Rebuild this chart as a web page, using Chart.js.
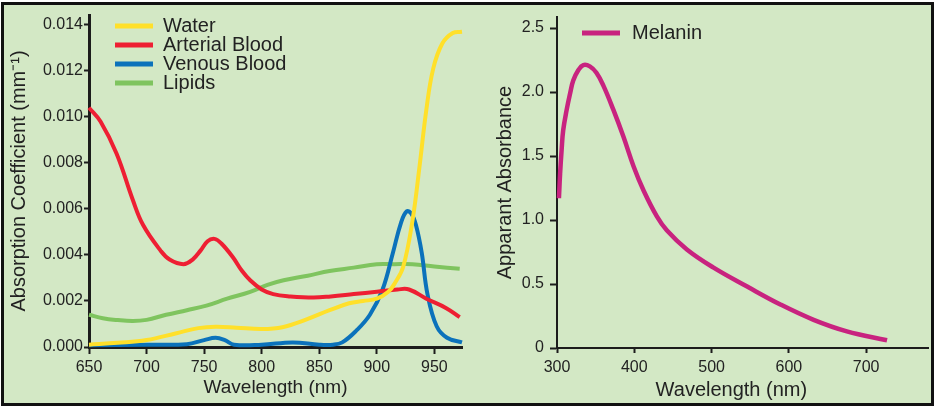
<!DOCTYPE html>
<html>
<head>
<meta charset="utf-8">
<script src="https://cdn.jsdelivr.net/npm/chart.js@4.4.1/dist/chart.umd.min.js"></script>
<style>
body { margin: 0; width: 936px; height: 410px; background: #fff; position: relative; overflow: hidden; }
#frame { position: absolute; left: 1px; top: 2px; width: 933px; height: 404px; border: 3px solid #111; box-sizing: border-box; background: #d3e8c5; }
.box { position: absolute; top: 0; height: 410px; }
#left { left: 0; width: 480px; }
#right { left: 480px; width: 456px; }
</style>
</head>
<body>
<div id="frame"></div>
<div class="box" id="left"><canvas id="absChart"></canvas></div>
<div class="box" id="right"><canvas id="melChart"></canvas></div>
<script>
// ── Data (wavelength nm, value) ──
const water = [[650, 0.0001], [675, 0.00018], [700, 0.0003], [726, 0.0006], [745, 0.00082], [760, 0.00088],
    [778, 0.00084], [800, 0.00078], [818, 0.00086], [839, 0.0012], [859, 0.0016], [876, 0.0019], [888, 0.002],
    [900, 0.0021], [910, 0.0024], [916, 0.0028], [923, 0.0035], [931, 0.0055], [937, 0.0078], [943, 0.0103],
    [949, 0.0121], [957, 0.0132], [966, 0.01365], [974, 0.0137]];
const arterial = [[650, 0.0104], [660, 0.0098], [674, 0.0084], [688, 0.0064], [697, 0.0053], [712, 0.0042],
    [720, 0.0038], [732, 0.0036], [740, 0.0038], [747, 0.0042], [753, 0.0046], [759, 0.0047], [765, 0.0045],
    [775, 0.0039], [783, 0.0033], [790, 0.0029], [800, 0.0025], [810, 0.0023], [825, 0.0022], [845, 0.00215],
    [860, 0.0022], [880, 0.0023], [900, 0.0024], [918, 0.0025], [928, 0.0025], [943, 0.0021], [960, 0.0017],
    [972, 0.0013]];
const venous = [[650, 0.00008], [700, 0.0001], [735, 0.00012], [750, 0.0003], [760, 0.0004], [768, 0.0003],
    [776, 0.0001], [800, 0.0001], [827, 0.0002], [850, 0.0001], [862, 0.0001], [870, 0.0002], [882, 0.0007],
    [894, 0.0014], [905, 0.0025], [914, 0.0041], [921, 0.0054], [926, 0.0059], [930, 0.0058], [934, 0.0053],
    [939, 0.0041], [944, 0.0023], [952, 0.0009], [961, 0.0004], [974, 0.0002]];
const lipids = [[650, 0.0014], [662, 0.00125], [675, 0.00117], [688, 0.00113], [700, 0.00118], [717, 0.0014],
    [735, 0.0016], [752, 0.0018], [770, 0.0021], [790, 0.0024], [805, 0.0027], [819, 0.0029], [840, 0.0031],
    [859, 0.0033], [880, 0.00345], [900, 0.0036], [915, 0.0036], [931, 0.0036], [950, 0.0035], [972, 0.0034]];
const melanin = [[302.5, 1.17], [304, 1.36], [306, 1.55], [308, 1.7], [312.5, 1.86], [317, 1.99], [321, 2.09],
    [327.5, 2.17], [334, 2.21], [342.5, 2.2], [351, 2.15], [360, 2.05], [373, 1.86], [386, 1.65], [399, 1.42],
    [412, 1.23], [429, 1.03], [442, 0.92], [468, 0.77], [502, 0.63], [546, 0.48], [589, 0.34], [632, 0.22],
    [675, 0.13], [727, 0.06]];

// ── Tick labels ──
const absTicks = [0, 0.002, 0.004, 0.006, 0.008, 0.010, 0.012, 0.014];
const wlTicksLeft = [650, 700, 750, 800, 850, 900, 950];
const melTicks = [0, 0.5, 1.0, 1.5, 2.0, 2.5];
const wlTicksRight = [300, 400, 500, 600, 700];

const AXIS = '#1c1c1c';
const TEXT = '#222';
Chart.defaults.font.family = '"Liberation Sans", Arial, Helvetica, sans-serif';
Chart.defaults.color = TEXT;

const toXY = arr => arr.map(([x, y]) => ({ x, y }));
const setTicks = list => scale => { scale.ticks = list.map(v => ({ value: v })); };

// ── Legend drawn inside the plot: short thick line + label ──
const lineLegend = {
    id: 'lineLegend',
    afterDraw(chart, args, opts) {
        const { ctx, chartArea } = chart;
        ctx.save();
        ctx.font = opts.font;
        ctx.fillStyle = TEXT;
        ctx.textBaseline = 'middle';
        chart.data.datasets.forEach((ds, i) => {
            const x = chartArea.left + opts.x;
            const y = chartArea.top + opts.y + i * opts.rowHeight;
            ctx.strokeStyle = ds.borderColor;
            ctx.lineWidth = opts.lineWidth;
            ctx.beginPath();
            ctx.moveTo(x, y);
            ctx.lineTo(x + opts.length, y);
            ctx.stroke();
            ctx.fillText(ds.label, x + opts.length + opts.gap, y);
        });
        ctx.restore();
    }
};

function series(label, data, color, width) {
    return {
        label, data: toXY(data), borderColor: color, borderWidth: width,
        pointRadius: 0, fill: false, tension: 0.4, clip: 6
    };
}

// ── Left: absorption spectra ──
new Chart(document.getElementById('absChart'), {
    type: 'line',
    data: {
        datasets: [
            series('Water', water, '#ffe02a', 4),
            series('Arterial Blood', arterial, '#ee1f33', 4),
            series('Venous Blood', venous, '#0b72bb', 4),
            series('Lipids', lipids, '#7fc45f', 4),
        ]
    },
    options: {
        responsive: true,
        maintainAspectRatio: false,
        animation: false,
        layout: { padding: { left: 0, right: 18, top: 15, bottom: 0 } },
        scales: {
            x: {
                type: 'linear', min: 650, max: 974,
                afterBuildTicks: setTicks(wlTicksLeft),
                afterFit: s => { s.height = 63; },
                ticks: { font: { size: 16 }, padding: 4, maxRotation: 0 },
                grid: { drawOnChartArea: false, tickLength: 7, tickWidth: 2, tickColor: AXIS },
                border: { width: 3, color: AXIS },
                title: { display: true, text: 'Wavelength (nm)', font: { size: 19 }, padding: { top: 0, bottom: 11 } }
            },
            y: {
                min: 0, max: 0.01443,
                afterBuildTicks: setTicks(absTicks),
                afterFit: s => { s.width = 89; },
                ticks: { font: { size: 16 }, padding: 1, callback: v => v.toFixed(3) },
                grid: { drawOnChartArea: false, tickLength: 5, tickWidth: 2, tickColor: AXIS },
                border: { width: 3, color: AXIS },
                title: { display: true, text: 'Absorption Coefficient (mm\u207B\u00B9)', font: { size: 20 }, padding: { top: 7, bottom: 0 } }
            }
        },
        plugins: {
            legend: { display: false },
            tooltip: { enabled: false },
            lineLegend: { x: 26, y: 11, rowHeight: 19, length: 38, gap: 10, lineWidth: 5, font: '20px "Liberation Sans", Arial, sans-serif' }
        }
    },
    plugins: [lineLegend]
});

// ── Right: melanin ──
new Chart(document.getElementById('melChart'), {
    type: 'line',
    data: {
        datasets: [series('Melanin', melanin, '#c8237f', 4.5)]
    },
    options: {
        responsive: true,
        maintainAspectRatio: false,
        animation: false,
        layout: { padding: { left: 0, right: 8, top: 17, bottom: 0 } },
        scales: {
            x: {
                type: 'linear', min: 300, max: 780,
                afterBuildTicks: setTicks(wlTicksRight),
                afterFit: s => { s.height = 62; },
                ticks: { font: { size: 16 }, padding: 5, maxRotation: 0 },
                grid: { drawOnChartArea: false, tickLength: 5, tickWidth: 2, tickColor: AXIS },
                border: { width: 2, color: AXIS },
                title: { display: true, text: 'Wavelength (nm)\u00A0\u00A0\u00A0\u00A0', font: { size: 20 }, padding: { top: 0, bottom: 8 } }
            },
            y: {
                min: 0, max: 2.586,
                afterBuildTicks: setTicks(melTicks),
                afterFit: s => { s.width = 77; },
                ticks: { font: { size: 16 }, padding: 6, callback: v => v === 0 ? '0' : v.toFixed(1) },
                grid: { drawOnChartArea: false, tickLength: 7, tickWidth: 2, tickColor: AXIS },
                border: { width: 2, color: AXIS },
                title: { display: true, text: 'Apparant Absorbance', font: { size: 20 }, padding: { top: 13, bottom: 0 } }
            }
        },
        plugins: {
            legend: { display: false },
            tooltip: { enabled: false },
            lineLegend: { x: 25, y: 16, rowHeight: 19, length: 38, gap: 12, lineWidth: 5, font: '20px "Liberation Sans", Arial, sans-serif' }
        }
    },
    plugins: [lineLegend]
});
</script>
</body>
</html>
